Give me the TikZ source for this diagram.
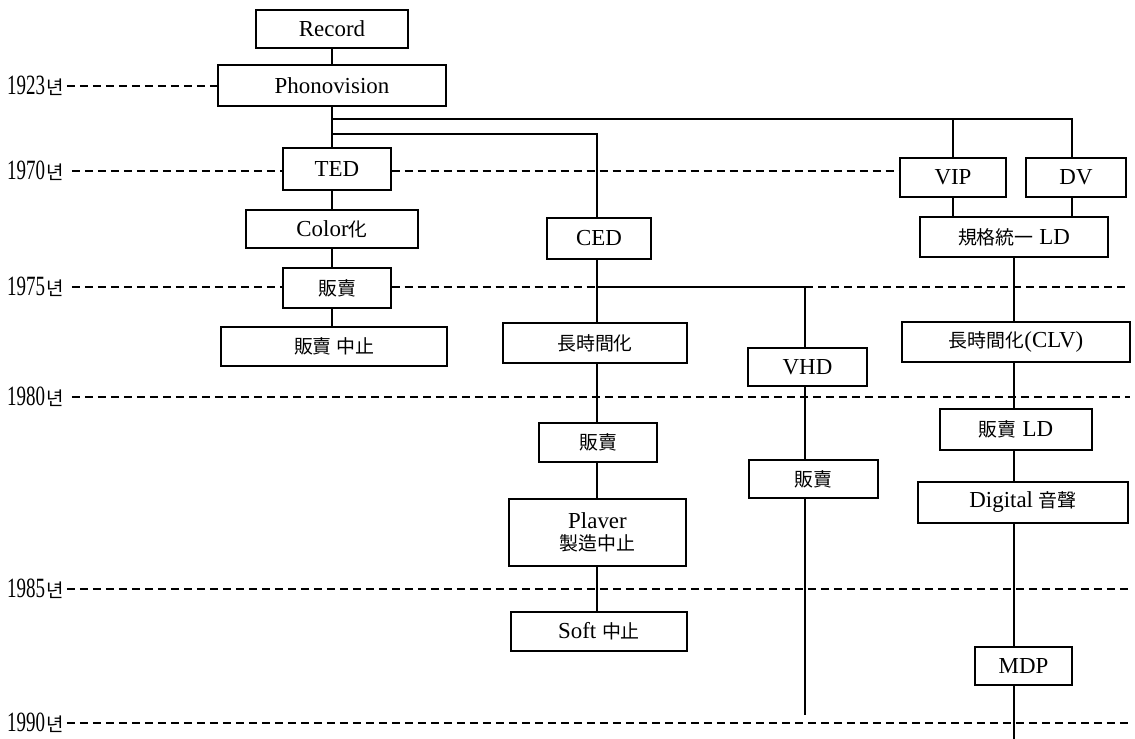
\documentclass[tikz,border=0pt]{standalone}
\usepackage{graphicx}
\usepackage{fontspec}
\setmainfont{Liberation Serif}
\newfontfamily\kr{Noto Sans CJK KR}
\newcommand\cjktxt[1]{{\kr\fontsize{19}{22}\selectfont #1}}
\newcommand\yrlab[1]{\scalebox{0.68}[1]{\fontsize{28}{30}\selectfont #1}\hspace{1bp}{\kr\fontsize{19}{20}\selectfont 년}}
\begin{document}
\begin{tikzpicture}[x=1bp,y=-1bp,
  box/.style={draw, line width=1.1bp, inner sep=0pt, align=center,
              font=\fontsize{23}{24}\selectfont},
  thickbox/.style={box, line width=2.2bp},
  conn/.style={line width=1.1bp},
  yearline/.style={line width=1.1bp, dash pattern=on 8bp off 5bp},
  yearlab/.style={anchor=west, inner sep=0pt}]
\useasboundingbox (0,0) rectangle (1135,739);

% left column
\node[box, minimum width=152bp, minimum height=38bp] (rec) at (332,29) {Record};
\node[box, minimum width=228bp, minimum height=41bp] (pho) at (332,85.5) {Phonovision};
\node[box, minimum width=108bp, minimum height=42bp] (ted) at (337,169) {TED};
\node[box, minimum width=172bp, minimum height=38bp] (col) at (332,229) {Color\cjktxt{化}};
\node[box, minimum width=108bp, minimum height=40bp] (sale1) at (337,288) {\cjktxt{販賣}};
\node[box, minimum width=226bp, minimum height=39bp] (stop1) at (334,346.5) {\cjktxt{販賣 中止}};

% CED column
\node[thickbox, minimum width=104bp, minimum height=41bp] (ced) at (599,238.5) {CED};
\node[box, minimum width=184bp, minimum height=40bp] (long1) at (595,343) {\cjktxt{長時間化}};
\node[box, minimum width=118bp, minimum height=39bp] (sale2) at (598,442.5) {\cjktxt{販賣}};
\node[box, minimum width=177bp, minimum height=67bp] (player) at (597.5,532.5) {Plaver\\[-2bp]\cjktxt{製造中止}};
\node[box, minimum width=176bp, minimum height=39bp] (soft) at (599,631.5) {Soft \cjktxt{中止}};

% VHD column
\node[thickbox, minimum width=119bp, minimum height=38bp] (vhd) at (807.5,367) {VHD};
\node[box, minimum width=129bp, minimum height=38bp] (sale3) at (813.5,479) {\cjktxt{販賣}};

% LD column
\node[box, minimum width=106bp, minimum height=39bp] (vip) at (953,177.5) {VIP};
\node[box, minimum width=100bp, minimum height=39bp] (dv) at (1076,177.5) {DV};
\node[thickbox, minimum width=188bp, minimum height=40bp] (ld) at (1014,237) {\cjktxt{規格統一} LD};
\node[box, minimum width=228bp, minimum height=40bp] (clv) at (1016,342) {\cjktxt{長時間化}(CLV)};
\node[box, minimum width=152bp, minimum height=41bp] (sale4) at (1016,429.5) {\cjktxt{販賣} LD};
\node[box, minimum width=210bp, minimum height=41bp] (dig) at (1023,502.5) {Digital \cjktxt{音聲}};
\node[box, minimum width=97bp, minimum height=38bp] (mdp) at (1023.5,666) {MDP};

% year labels
\node[yearlab] (y1923) at (7,86) {\yrlab{1923}};
\node[yearlab] (y1970) at (7,171) {\yrlab{1970}};
\node[yearlab] (y1975) at (7,287) {\yrlab{1975}};
\node[yearlab] (y1980) at (7,397) {\yrlab{1980}};
\node[yearlab] (y1985) at (7,589) {\yrlab{1985}};
\node[yearlab] (y1990) at (7,723) {\yrlab{1990}};

% junction coordinates
\coordinate (s1) at (332,119);
\coordinate (s2) at (332,134);
\coordinate (v1) at (953,119);
\coordinate (d1) at (1072,119);
\coordinate (c1) at (597,134);
\coordinate (b1) at (597,287);
\coordinate (b2) at (805,287);
\coordinate (vend) at (805,715);
\coordinate (lend) at (1014,739);
\coordinate (r1975) at (1130,287);
\coordinate (r1980) at (1130,397);
\coordinate (r1985) at (1130,589);
\coordinate (r1990) at (1130,723);

% connectors: left column
\draw[conn] (rec.south) -- (pho.north);
\draw[conn] (pho.south) -- (pho.south |- ted.north);
\draw[conn] (pho.south |- ted.south) -- (pho.south |- col.north);
\draw[conn] (pho.south |- col.south) -- (pho.south |- sale1.north);
\draw[conn] (pho.south |- sale1.south) -- (pho.south |- stop1.north);

% branches
\draw[conn] (s1) -- (d1) -- (d1 |- dv.north);
\draw[conn] (v1) -- (v1 |- vip.north);
\draw[conn] (s2) -- (c1) -- (c1 |- ced.north);
\draw[conn] (vip.south) -- (vip.south |- ld.north);
\draw[conn] (d1 |- dv.south) -- (d1 |- ld.north);

% CED column
\draw[conn] (c1 |- ced.south) -- (c1 |- long1.north);
\draw[conn] (c1 |- long1.south) -- (c1 |- sale2.north);
\draw[conn] (c1 |- sale2.south) -- (c1 |- player.north);
\draw[conn] (c1 |- player.south) -- (c1 |- soft.north);

% VHD column
\draw[conn] (b1) -- (b2) -- (b2 |- vhd.north);
\draw[conn] (b2 |- vhd.south) -- (b2 |- sale3.north);
\draw[conn] (b2 |- sale3.south) -- (vend);

% LD column
\draw[conn] (ld.south) -- (ld.south |- clv.north);
\draw[conn] (ld.south |- clv.south) -- (ld.south |- sale4.north);
\draw[conn] (ld.south |- sale4.south) -- (ld.south |- dig.north);
\draw[conn] (ld.south |- dig.south) -- (ld.south |- mdp.north);
\draw[conn] (ld.south |- mdp.south) -- (lend);

% year lines
\draw[yearline] ([xshift=3bp]y1923.east) -- (pho.west |- y1923.east);
\draw[yearline] ([xshift=8bp]y1970.east) -- (ted.west |- y1970.east);
\draw[yearline] (ted.east |- y1970.east) -- (vip.west |- y1970.east);
\draw[yearline] ([xshift=8bp]y1975.east) -- (sale1.west |- y1975.east);
\draw[yearline] (sale1.east |- b1) -- (b1);
\draw[yearline] (b2) -- (r1975);
\draw[yearline] ([xshift=8bp]y1980.east) -- (r1980);
\draw[yearline] ([xshift=3bp]y1985.east) -- (r1985);
\draw[yearline] ([xshift=3bp]y1990.east) -- (r1990);
\end{tikzpicture}
\end{document}
